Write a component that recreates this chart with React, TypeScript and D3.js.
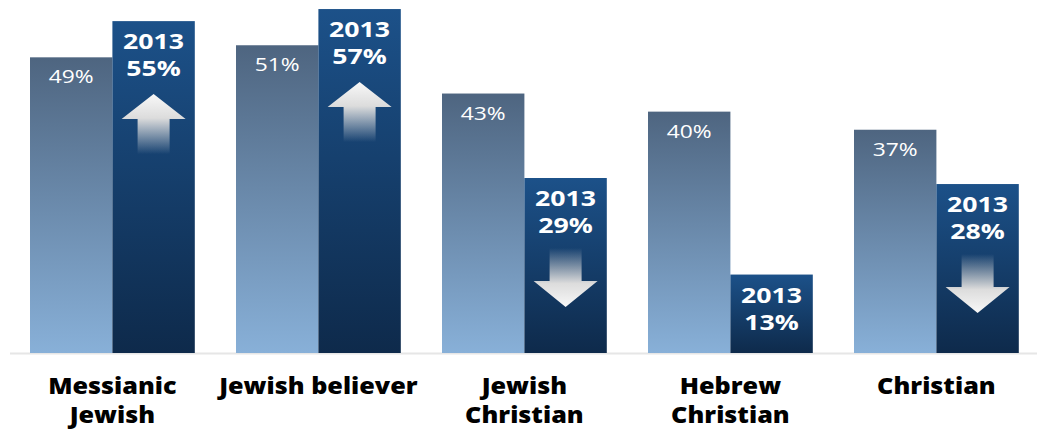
import React from "react";
import * as d3 from "d3";

const categories = ["Messianic Jewish", "Jewish believer", "Jewish Christian", "Hebrew Christian", "Christian"];
const categoryLines = [["Messianic", "Jewish"], ["Jewish believer"], ["Jewish", "Christian"], ["Hebrew", "Christian"], ["Christian"]];
const earlierValues = [49, 51, 43, 40, 37];
const values2013 = [55, 57, 29, 13, 28];
const trend = ["up", "up", "down", "none", "down"];
const yearLabel = "2013";

const W = 1037;
const H = 430;
const baseY = 353;

export default function App() {
  const x = d3.scaleBand<string>().domain(categories).range([9.4, 1039.4]).paddingInner(0.2).paddingOuter(0.1);
  const y = d3.scaleLinear().domain([0, 58.5]).range([baseY, 0]);
  const bw = x.bandwidth() / 2;
  const font = "'Open Sans', 'DejaVu Sans', sans-serif";

  const T = (props: { x: number; y: number; s: number; size: number; weight: number; fill: string; children: React.ReactNode }) => (
    <text
      transform={`translate(${props.x},${props.y}) scale(${props.s},1)`}
      textAnchor="middle"
      fill={props.fill}
      fontFamily={font}
      fontSize={props.size}
      fontWeight={props.weight}
    >
      {props.children}
    </text>
  );

  return (
    <svg width={W} height={H} style={{ position: "absolute", left: 0, top: 0, background: "#fff" }}>
      <defs>
        <linearGradient id="oldGrad" x1="0" y1="0" x2="0" y2="1">
          <stop offset="0" stopColor="#4e6580" />
          <stop offset="1" stopColor="#88b0d8" />
        </linearGradient>
        <linearGradient id="newGrad" x1="0" y1="0" x2="0" y2="1">
          <stop offset="0" stopColor="#1c5189" />
          <stop offset="1" stopColor="#0e2a4b" />
        </linearGradient>
        <linearGradient id="upGrad" x1="0" y1="0" x2="0" y2="1">
          <stop offset="0" stopColor="#f8f8f8" />
          <stop offset="0.4" stopColor="#dcdcdc" />
          <stop offset="1" stopColor="#dcdcdc" stopOpacity="0" />
        </linearGradient>
        <linearGradient id="downGrad" x1="0" y1="0" x2="0" y2="1">
          <stop offset="0" stopColor="#dcdcdc" stopOpacity="0" />
          <stop offset="0.6" stopColor="#dcdcdc" />
          <stop offset="1" stopColor="#f8f8f8" />
        </linearGradient>
      </defs>
      <line x1={10} x2={W} y1={baseY + 0.5} y2={baseY + 0.5} stroke="#e6e6e6" strokeWidth={2} />
      {categories.map((c, i) => {
        const x0 = x(c)!;
        const x1 = x0 + bw;
        const yOld = y(earlierValues[i]);
        const yNew = y(values2013[i]);
        const cx0 = x0 + bw / 2;
        const cx1 = x1 + bw / 2;
        let arrow = null;
        if (trend[i] === "up") {
          const tip = yNew + 73, hb = yNew + 98, bot = yNew + 133;
          const d = `M${cx1},${tip} L${cx1 + 32},${hb} L${cx1 + 16},${hb} L${cx1 + 16},${bot} L${cx1 - 16},${bot} L${cx1 - 16},${hb} L${cx1 - 32},${hb} Z`;
          arrow = <path d={d} fill="url(#upGrad)" />;
        } else if (trend[i] === "down") {
          const top = yNew + 70, hb = yNew + 103, tip = yNew + 129;
          const d = `M${cx1 - 16},${top} L${cx1 + 16},${top} L${cx1 + 16},${hb} L${cx1 + 32},${hb} L${cx1},${tip} L${cx1 - 32},${hb} L${cx1 - 16},${hb} Z`;
          arrow = <path d={d} fill="url(#downGrad)" />;
        }
        return (
          <g key={c}>
            <rect x={x0} y={yOld} width={bw} height={baseY - yOld} fill="url(#oldGrad)" />
            <rect x={x1} y={yNew} width={bw} height={baseY - yNew} fill="url(#newGrad)" />
            <T x={cx0} y={yOld + 26} s={1.2} size={19} weight={400} fill="#fff">
              {earlierValues[i]}%
            </T>
            <T x={cx1} y={yNew + 28} s={1.27} size={21} weight={700} fill="#fff">
              {yearLabel}
            </T>
            <T x={cx1} y={yNew + 55} s={1.27} size={21} weight={700} fill="#fff">
              {values2013[i]}%
            </T>
            {arrow}
            {categoryLines[i].map((ln, j) => (
              <T key={j} x={x0 + x.bandwidth() / 2} y={394 + j * 29} s={1.12} size={22.5} weight={800} fill="#000">
                {ln}
              </T>
            ))}
          </g>
        );
      })}
    </svg>
  );
}
